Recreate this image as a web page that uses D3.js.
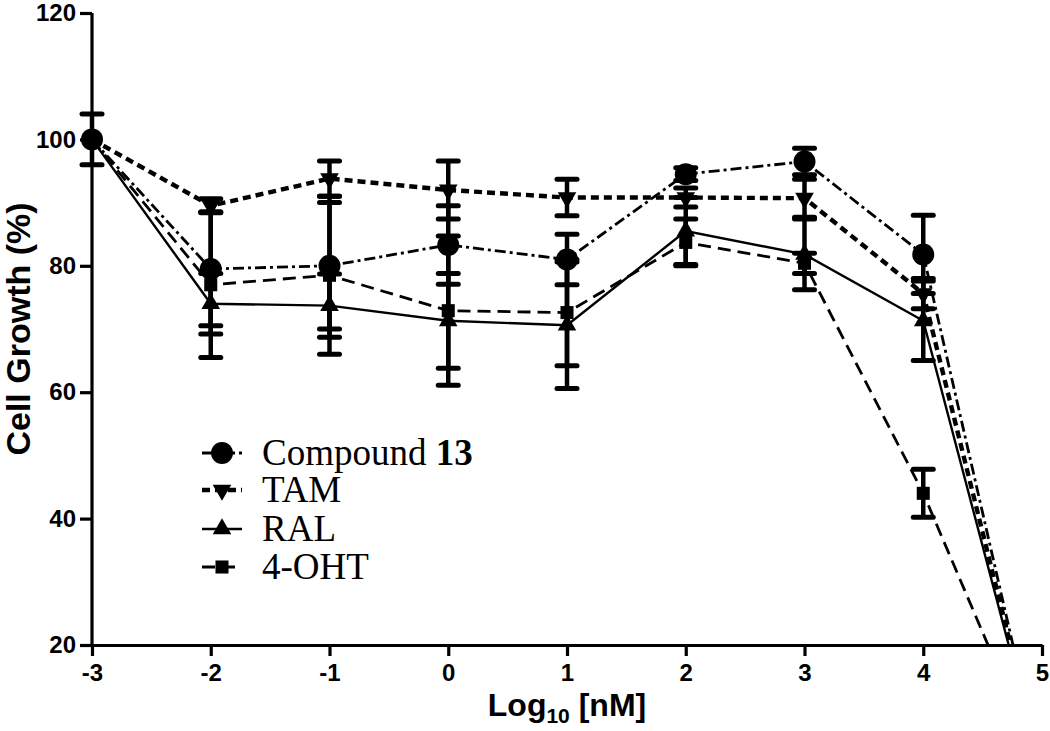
<!DOCTYPE html>
<html>
<head>
<meta charset="utf-8">
<script src="https://cdn.jsdelivr.net/npm/d3@7"></script>
<style>
  html, body { margin: 0; padding: 0; background: #fff; }
  svg { display: block; }
</style>
</head>
<body>
<svg id="chart" width="1050" height="731"></svg>
<script>
// ---- Data ----
const logConc = [-3, -2, -1, 0, 1, 2, 3, 4, 5];
const compound13 = [100, 79.5, 80.0, 83.3, 81.0, 94.5, 96.5, 81.8, 0];
const compound13Err = [4.0, 9.0, 10.0, 6.2, 4.0, 1.0, 2.1, 6.2, 0];
const tam = [100, 89.5, 93.8, 92.0, 90.8, 90.8, 90.7, 75.6, 0];
const tamErr = [0, 1.1, 2.8, 4.6, 2.9, 1.5, 3.0, 2.4, 0];
const ral = [100, 74.0, 73.7, 71.3, 70.6, 85.5, 81.8, 71.3, 0];
const ralErr = [0, 4.8, 5.0, 7.5, 10.0, 5.3, 5.6, 6.3, 0];
const oht = [100, 77.0, 78.5, 72.9, 72.6, 83.7, 80.4, 44.0, 0];
const ohtErr = [0, 11.5, 12.5, 11.8, 8.4, 3.7, 1.6, 3.8, 0];
const yTicks = [20, 40, 60, 80, 100, 120];
const xTicks = [-3, -2, -1, 0, 1, 2, 3, 4, 5];
const seriesNames = ["Compound 13", "TAM", "RAL", "4-OHT"];

const series = [
  { name: seriesNames[0], values: compound13, err: compound13Err, dash: "11,4,3,4", width: 2.8, marker: "circle" },
  { name: seriesNames[1], values: tam, err: tamErr, dash: "8,5", width: 4.4, marker: "down" },
  { name: seriesNames[2], values: ral, err: ralErr, dash: null, width: 2.4, marker: "up" },
  { name: seriesNames[3], values: oht, err: ohtErr, dash: "13,7", width: 2.8, marker: "square" }
];

const svg = d3.select("#chart");
const x = d3.scaleLinear().domain([-3, 5]).range([92, 1042]);
const y = d3.scaleLinear().domain([20, 120]).range([645, 13]);

svg.append("defs").append("clipPath").attr("id", "clip")
  .append("rect").attr("x", 0).attr("y", 0).attr("width", 1050).attr("height", y(20));

const plot = svg.append("g").attr("clip-path", "url(#clip)");

function markerPath(type) {
  if (type === "circle") return d3.symbol(d3.symbolCircle, 380)();
  if (type === "square") return d3.symbol(d3.symbolSquare, 170)();
  if (type === "up") return d3.symbol(d3.symbolTriangle, 150)();
  if (type === "down") return d3.symbol(d3.symbolTriangle, 150)();
  return "";
}

// error bars
series.forEach(s => {
  const g = plot.append("g");
  s.values.forEach((v, i) => {
    if (!s.err[i]) return;
    const cx = x(logConc[i]);
    g.append("line").attr("x1", cx).attr("x2", cx)
      .attr("y1", y(v + s.err[i])).attr("y2", y(v - s.err[i]))
      .attr("stroke", "#000").attr("stroke-width", 4.5);
    [v + s.err[i], v - s.err[i]].forEach(e => {
      g.append("line").attr("x1", cx - 10).attr("x2", cx + 10)
        .attr("y1", y(e)).attr("y2", y(e))
        .attr("stroke", "#000").attr("stroke-width", 5).attr("stroke-linecap", "round");
    });
  });
});

// lines
const line = d3.line().x((d, i) => x(logConc[i])).y(d => y(d));
series.forEach(s => {
  plot.append("path").datum(s.values)
    .attr("d", line)
    .attr("fill", "none").attr("stroke", "#000")
    .attr("stroke-width", s.width)
    .attr("stroke-dasharray", s.dash);
});

// markers
series.forEach(s => {
  plot.selectAll(null).data(s.values).enter().append("path")
    .attr("d", markerPath(s.marker))
    .attr("transform", (d, i) => `translate(${x(logConc[i])},${y(d)})` + (s.marker === "down" ? " rotate(180)" : ""))
    .attr("fill", "#000");
});

// axes
const fmt = d => String(d).replace("\u2212", "-");
const yAxis = svg.append("g").attr("transform", `translate(${x(-3)},0)`)
  .call(d3.axisLeft(y).tickValues(yTicks).tickFormat(fmt).tickSize(12).tickPadding(4).tickSizeOuter(0));
const xAxis = svg.append("g").attr("transform", `translate(0,${y(20)})`)
  .call(d3.axisBottom(x).tickValues(xTicks).tickFormat(fmt).tickSize(11).tickPadding(8).tickSizeOuter(0));
[yAxis, xAxis].forEach(a => {
  a.select(".domain").attr("stroke-width", 3.2);
  a.selectAll(".tick line").attr("stroke-width", 3.2);
  a.selectAll(".tick text")
    .attr("font-family", "Liberation Sans, Arial, sans-serif")
    .attr("font-weight", "bold").attr("font-size", 24).attr("fill", "#000");
});
yAxis.select(".domain").attr("d", `M0,${y(120)}V${y(20)}`);

// axis titles
svg.append("text")
  .attr("transform", `translate(30,${(y(20) + y(120)) / 2}) rotate(-90)`)
  .attr("text-anchor", "middle")
  .attr("font-family", "Liberation Sans, Arial, sans-serif")
  .attr("font-weight", "bold").attr("font-size", 34)
  .text("Cell Growth (%)");

const xt = svg.append("text")
  .attr("x", (x(-3) + x(5)) / 2).attr("y", 716)
  .attr("text-anchor", "middle")
  .attr("font-family", "Liberation Sans, Arial, sans-serif")
  .attr("font-weight", "bold").attr("font-size", 32);
xt.append("tspan").text("Log");
xt.append("tspan").attr("font-size", 21).attr("dy", 7).text("10");
xt.append("tspan").attr("dy", -7).text(" [nM]");

// legend
const legend = svg.append("g");
const legendY = [453, 490, 529, 567];
series.forEach((s, i) => {
  const ly = legendY[i];
  legend.append("line").attr("x1", 202).attr("x2", 242).attr("y1", ly).attr("y2", ly)
    .attr("stroke", "#000").attr("stroke-width", s.width)
    .attr("stroke-dasharray", s.dash);
  legend.append("path").attr("d", markerPath(s.marker))
    .attr("transform", `translate(222,${ly})` + (s.marker === "down" ? " rotate(180)" : ""))
    .attr("fill", "#000");
  const t = legend.append("text").attr("x", 262).attr("y", ly + 12)
    .attr("font-family", "Liberation Serif, Times New Roman, serif")
    .attr("font-size", 37).attr("fill", "#000");
  if (s.name === "Compound 13") {
    t.append("tspan").text("Compound ");
    t.append("tspan").attr("font-weight", "bold").text("13");
  } else {
    t.text(s.name);
  }
});
</script>
</body>
</html>
